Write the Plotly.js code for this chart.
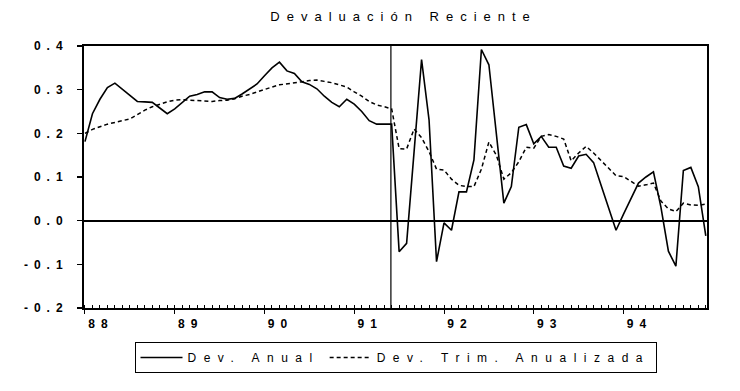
<!DOCTYPE html>
<html>
<head>
<meta charset="utf-8">
<script src="https://cdn.plot.ly/plotly-3.0.1.min.js"></script>
<style>
  html, body { margin: 0; padding: 0; background: #fff; }
  #chart { width: 740px; height: 391px; }
  svg text { letter-spacing: 6px; }
  .gtitle { letter-spacing: 7px; }
  .legendtext { letter-spacing: 7.5px; }
</style>
</head>
<body>
<div id="chart"></div>
<script>
// Monthly observations Jan 1988 .. Dec 1994 (index 0..83)
const devAnual = [
  0.181, 0.245, 0.278, 0.305, 0.315, 0.301, 0.287, 0.273, 0.272, 0.271,
  0.258, 0.245, 0.256, 0.270, 0.285, 0.289, 0.295, 0.295, 0.282, 0.278,
  0.280, 0.290, 0.301, 0.313, 0.332, 0.350, 0.363, 0.343, 0.337, 0.318,
  0.312, 0.302, 0.285, 0.271, 0.261, 0.278, 0.267, 0.250, 0.229, 0.221,
  0.221, 0.221, -0.071, -0.052, 0.158, 0.369, 0.231, -0.094, -0.005, -0.022,
  0.066, 0.066, 0.139, 0.392, 0.357, 0.200, 0.040, 0.078, 0.214, 0.220,
  0.176, 0.193, 0.168, 0.168, 0.125, 0.120, 0.148, 0.152, 0.133, 0.081,
  0.031, -0.022, 0.015, 0.050, 0.086, 0.100, 0.112, 0.031, -0.070, -0.104,
  0.115, 0.122, 0.078, -0.035
];
const devTrim = [
  0.200, 0.209, 0.215, 0.221, 0.225, 0.229, 0.233, 0.243, 0.253, 0.261,
  0.267, 0.272, 0.276, 0.277, 0.276, 0.275, 0.274, 0.273, 0.275, 0.276,
  0.279, 0.285, 0.289, 0.295, 0.300, 0.306, 0.311, 0.313, 0.316, 0.318,
  0.321, 0.322, 0.319, 0.316, 0.311, 0.306, 0.295, 0.285, 0.273, 0.265,
  0.261, 0.256, 0.165, 0.164, 0.210, 0.190, 0.158, 0.118, 0.116, 0.095,
  0.081, 0.078, 0.078, 0.118, 0.180, 0.150, 0.095, 0.110, 0.135, 0.168,
  0.166, 0.193, 0.197, 0.193, 0.187, 0.137, 0.155, 0.170, 0.155, 0.138,
  0.120, 0.103, 0.101, 0.090, 0.079, 0.082, 0.086, 0.045, 0.027, 0.021,
  0.040, 0.036, 0.035, 0.038
];
const months = devAnual.map((_, i) => i);
const yearTickVals = [0, 12, 24, 36, 48, 60, 72];
const yearTickText = ['88', '89', '90', '91', '92', '93', '94'];
const yTickVals = [-0.2, -0.1, 0.0, 0.1, 0.2, 0.3, 0.4];
const yTickText = ['-0.2', '-0.1', '0.0', '0.1', '0.2', '0.3', '0.4'];
const breakMonth = 40.9;
const seriesNames = ['Dev. Anual', 'Dev. Trim. Anualizada'];

const FONT = 'Liberation Sans, Arial, sans-serif';

const traces = [
  {
    x: months, y: devAnual, name: seriesNames[0], type: 'scatter', mode: 'lines',
    line: { color: '#000', width: 1.6 }
  },
  {
    x: months, y: devTrim, name: seriesNames[1], type: 'scatter', mode: 'lines',
    line: { color: '#000', width: 1.5, dash: '4px,3px' }
  }
];

const layout = {
  width: 740, height: 391,
  margin: { l: 84, r: 33, t: 46, b: 83 },
  paper_bgcolor: '#fff', plot_bgcolor: '#fff',
  font: { family: FONT, color: '#000', size: 11 },
  title: {
    text: 'Devaluación Reciente',
    font: { family: FONT, size: 13, color: '#000' },
    x: 0.513, xref: 'paper', xanchor: 'center',
    y: 1 - 16 / 391, yanchor: 'middle'
  },
  showlegend: true,
  legend: {
    orientation: 'h', x: 0.5, xanchor: 'center', y: -0.13, yanchor: 'top',
    bordercolor: '#000', borderwidth: 1, bgcolor: '#fff',
    font: { family: FONT, size: 12, color: '#000' },
    itemwidth: 42
  },
  xaxis: {
    range: [-0.13, 83.16],
    tickmode: 'array', tickvals: yearTickVals, ticktext: yearTickText,
    ticks: 'outside', ticklen: 4, tickwidth: 1, tickcolor: '#000',
    ticklabelshift: 16,
    tickfont: { family: FONT, size: 12, color: '#000', weight: 'bold' },
    minor: { tickmode: 'linear', tick0: 0, dtick: 1, ticks: 'inside', ticklen: 3, tickcolor: '#000', tickwidth: 1 },
    showline: true, linecolor: '#000', linewidth: 2, mirror: true,
    showgrid: false, zeroline: false
  },
  yaxis: {
    range: [-0.2, 0.4],
    tickmode: 'array', tickvals: yTickVals, ticktext: yTickText,
    ticks: 'outside', ticklen: 5, tickwidth: 1.5, tickcolor: '#000',
    ticklabelstandoff: 6,
    tickfont: { family: FONT, size: 12, color: '#000', weight: 'bold' },
    showline: true, linecolor: '#000', linewidth: 2, mirror: true,
    showgrid: false,
    zeroline: true, zerolinecolor: '#000', zerolinewidth: 2
  },
  shapes: [
    {
      type: 'line', xref: 'x', yref: 'paper',
      x0: breakMonth, x1: breakMonth, y0: 0, y1: 1,
      line: { color: '#000', width: 1.2 }
    }
  ]
};

Plotly.newPlot('chart', traces, layout, { staticPlot: true, displayModeBar: false });
</script>
</body>
</html>
